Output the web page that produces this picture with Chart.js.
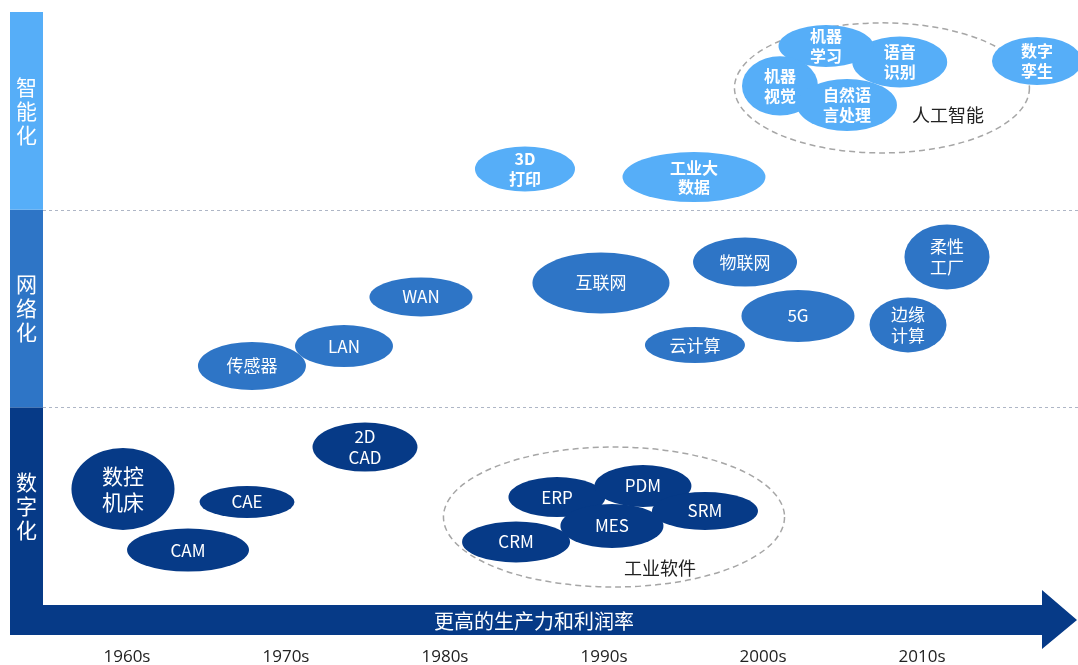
<!DOCTYPE html>
<html>
<head>
<meta charset="UTF-8">
<title>工业发展阶段</title>
<style>
  html, body { margin: 0; padding: 0; background: #fff; }
  #wrap { width: 1078px; height: 665px; }
</style>
</head>
<body>
<div id="wrap"><canvas id="stageChart"></canvas></div>
<script src="https://cdn.jsdelivr.net/npm/chart.js@4.4.0/dist/chart.umd.min.js"></script>
<script>
// 年代刻度
const decades = [1960, 1970, 1980, 1990, 2000, 2010];
const stageNames = ['数字化', '网络化', '智能化'];
const stageColors = ['#063a87', '#2e75c6', '#56aef8'];
const arrowText = '更高的生产力和利润率';

// 数字化: 名称 / 年份 / 层级 / 宽(年) / 高(层级)
const digitalNames = ['数控\n机床', 'CAE', 'CAM', '2D\nCAD', 'ERP', 'PDM', 'SRM', 'MES', 'CRM'];
const digitalYears = [1959.75, 1967.55, 1963.84, 1974.97, 1987.04, 1992.45, 1996.35, 1990.50, 1984.47];
const digitalLevels = [0.587, 0.521, 0.278, 0.799, 0.546, 0.602, 0.476, 0.400, 0.319];
const digitalSpanX = [6.48, 5.97, 7.67, 6.60, 6.10, 6.10, 6.67, 6.48, 6.79];
const digitalSpanY = [0.415, 0.162, 0.218, 0.248, 0.202, 0.212, 0.192, 0.223, 0.207];

// 网络化
const networkNames = ['传感器', 'LAN', 'WAN', '互联网', '物联网', '5G', '云计算', '边缘\n计算', '柔性\n工厂'];
const networkYears = [1967.86, 1973.65, 1978.49, 1989.81, 1998.87, 2002.20, 1995.72, 2009.12, 2011.57];
const networkLevels = [1.209, 1.310, 1.558, 1.629, 1.735, 1.462, 1.315, 1.417, 1.761];
const networkSpanX = [6.79, 6.16, 6.48, 8.62, 6.54, 7.11, 6.29, 4.84, 5.35];
const networkSpanY = [0.243, 0.212, 0.197, 0.309, 0.248, 0.263, 0.182, 0.278, 0.329];

// 智能化
const smartNames = ['3D\n打印', '工业大\n数据', '语音\n识别', '机器\n学习', '机器\n视觉', '自然语\n言处理', '数字\n孪生'];
const smartYears = [1985.03, 1995.66, 2008.60, 2003.96, 2001.07, 2005.28, 2017.23];
const smartLevels = [2.206, 2.165, 2.747, 2.828, 2.626, 2.530, 2.752];
const smartSpanX = [6.29, 8.99, 5.97, 5.97, 4.78, 6.29, 5.66];
const smartSpanY = [0.228, 0.253, 0.258, 0.212, 0.300, 0.263, 0.243];

// 虚线分组
const groupNames = ['工业软件', '人工智能'];
const groupYears = [1990.63, 2007.48];
const groupLevels = [0.445, 2.616];
const groupSpanX = [21.45, 18.55];
const groupSpanY = [0.708, 0.658];
const groupLabelYears = [1993.52, 2011.64];
const groupLabelLevels = [0.187, 2.479];

const FONT = '"Noto Sans CJK SC", "Open Sans", sans-serif';

function points(years, levels) {
  return years.map((x, i) => ({ x: x, y: levels[i] }));
}

function ellipse(ctx, chart, x, y, sx, sy) {
  const xs = chart.scales.x, ys = chart.scales.y;
  const cx = xs.getPixelForValue(x), cy = ys.getPixelForValue(y);
  const rx = Math.abs(xs.getPixelForValue(x + sx / 2) - cx);
  const ry = Math.abs(ys.getPixelForValue(y + sy / 2) - cy);
  ctx.beginPath();
  ctx.ellipse(cx, cy, rx, ry, 0, 0, Math.PI * 2);
  return { cx: cx, cy: cy, rx: rx, ry: ry };
}

function multiline(ctx, text, cx, cy, size) {
  const lines = text.split('\n');
  const lh = size * 1.2;
  lines.forEach((t, i) => {
    ctx.fillText(t, cx, cy + (i - (lines.length - 1) / 2) * lh);
  });
}

const stagePlugin = {
  id: 'stages',
  beforeDatasetsDraw(chart) {
    const ctx = chart.ctx, area = chart.chartArea;
    const ys = chart.scales.y;
    const barLeft = 10;
    ctx.save();
    // 左侧三段
    for (let i = 0; i < 3; i++) {
      const top = ys.getPixelForValue(i + 1), bottom = ys.getPixelForValue(i);
      ctx.fillStyle = stageColors[i];
      ctx.fillRect(barLeft, top, area.left - barLeft, bottom - top);
      ctx.fillStyle = '#fff';
      ctx.font = '21px ' + FONT;
      ctx.textAlign = 'center';
      ctx.textBaseline = 'middle';
      const chars = stageNames[i].split('');
      const mid = (top + bottom) / 2;
      chars.forEach((c, k) => ctx.fillText(c, (barLeft + area.left) / 2, mid + (k - 1) * 24));
    }
    // 底部箭头
    const aTop = area.bottom, aBot = area.bottom + 30;
    const headX = area.right - 36;
    ctx.fillStyle = stageColors[0];
    ctx.beginPath();
    ctx.moveTo(barLeft, aTop);
    ctx.lineTo(headX, aTop);
    ctx.lineTo(headX, aTop - 15);
    ctx.lineTo(area.right - 1, (aTop + aBot) / 2);
    ctx.lineTo(headX, aBot + 14);
    ctx.lineTo(headX, aBot);
    ctx.lineTo(barLeft, aBot);
    ctx.closePath();
    ctx.fill();
    ctx.fillStyle = '#fff';
    ctx.font = '20px ' + FONT;
    ctx.fillText(arrowText, 534, (aTop + aBot) / 2 + 1);
    // 分隔虚线
    ctx.strokeStyle = '#aeb6c6';
    ctx.lineWidth = 1;
    ctx.setLineDash([3, 3]);
    [1, 2].forEach(v => {
      const py = Math.round(ys.getPixelForValue(v)) + 0.5;
      ctx.beginPath();
      ctx.moveTo(area.left, py);
      ctx.lineTo(area.right, py);
      ctx.stroke();
    });
    ctx.restore();
  },
  afterDatasetsDraw(chart) {
    const ctx = chart.ctx;
    ctx.save();
    // 虚线分组
    ctx.strokeStyle = '#a6a6a6';
    ctx.lineWidth = 1.5;
    ctx.setLineDash([6, 4]);
    groupNames.forEach((n, i) => {
      ellipse(ctx, chart, groupYears[i], groupLevels[i], groupSpanX[i], groupSpanY[i]);
      ctx.stroke();
    });
    ctx.setLineDash([]);
    ctx.fillStyle = '#222';
    ctx.font = '18px ' + FONT;
    ctx.textAlign = 'center';
    ctx.textBaseline = 'middle';
    groupNames.forEach((n, i) => {
      ctx.fillText(n, chart.scales.x.getPixelForValue(groupLabelYears[i]), chart.scales.y.getPixelForValue(groupLabelLevels[i]));
    });
    // 气泡
    const sets = [
      [digitalNames, digitalYears, digitalLevels, digitalSpanX, digitalSpanY, false],
      [networkNames, networkYears, networkLevels, networkSpanX, networkSpanY, false],
      [smartNames, smartYears, smartLevels, smartSpanX, smartSpanY, true]
    ];
    sets.forEach((s, k) => {
      const [names, xs, lv, sx, sy, bold] = s;
      names.forEach((n, i) => {
        ellipse(ctx, chart, xs[i], lv[i], sx[i], sy[i]);
        ctx.fillStyle = stageColors[k];
        ctx.fill();
      });
      names.forEach((n, i) => {
        const e = ellipse(ctx, chart, xs[i], lv[i], sx[i], sy[i]);
        const size = e.ry > 38 ? 21 : (bold ? 16 : 17);
        ctx.fillStyle = '#fff';
        ctx.font = (bold ? 'bold ' : '') + size + 'px ' + FONT;
        multiline(ctx, n, e.cx, e.cy, size);
      });
    });
    ctx.restore();
  }
};

const ctx = document.getElementById('stageChart');
new Chart(ctx, {
  type: 'scatter',
  data: {
    datasets: [
      { label: '分组', data: points(groupYears, groupLevels), pointRadius: 0 },
      { label: stageNames[0], data: points(digitalYears, digitalLevels), pointRadius: 0 },
      { label: stageNames[1], data: points(networkYears, networkLevels), pointRadius: 0 },
      { label: stageNames[2], data: points(smartYears, smartLevels), pointRadius: 0 }
    ]
  },
  options: {
    responsive: true,
    maintainAspectRatio: false,
    animation: false,
    layout: { padding: { left: 43, top: 12, right: 0, bottom: 0 } },
    plugins: { legend: { display: false }, tooltip: { enabled: false } },
    scales: {
      x: {
        type: 'linear',
        min: 1954.72,
        max: 2019.81,
        afterBuildTicks: s => { s.ticks = decades.map(v => ({ value: v })); },
        afterFit: s => { s.height = 60; },
        grid: { display: false, drawTicks: false },
        border: { display: false },
        ticks: {
          padding: 42,
          maxRotation: 0,
          color: '#222',
          font: { size: 17, family: '"Open Sans", "Noto Sans", sans-serif' },
          callback: v => v + 's'
        }
      },
      y: {
        type: 'linear',
        min: 0,
        max: 3,
        display: false
      }
    }
  },
  plugins: [stagePlugin]
});
</script>
</body>
</html>
